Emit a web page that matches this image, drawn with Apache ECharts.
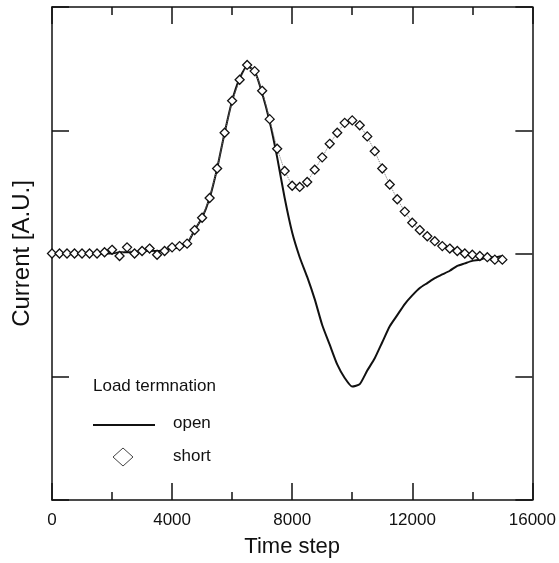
<!DOCTYPE html>
<html>
<head>
<meta charset="utf-8">
<script src="https://cdn.jsdelivr.net/npm/echarts@6/dist/echarts.min.js"></script>
<style>
    html, body { margin: 0; padding: 0; background: #fff; }
    #cn { width: 559px; height: 563px; }
</style>
</head>
<body>
<div id="cn"></div>
<script>
'use strict';

// time steps (every 250)
const timeSteps = [
    0, 250, 500, 750, 1000, 1250, 1500, 1750, 2000, 2250,
    2500, 2750, 3000, 3250, 3500, 3750, 4000, 4250, 4500, 4750,
    5000, 5250, 5500, 5750, 6000, 6250, 6500, 6750, 7000, 7250,
    7500, 7750, 8000, 8250, 8500, 8750, 9000, 9250, 9500, 9750,
    10000, 10250, 10500, 10750, 11000, 11250, 11500, 11750, 12000, 12250,
    12500, 12750, 13000, 13250, 13500, 13750, 14000, 14250, 14500, 14750,
    15000
];

// load termination: open (solid line)
const openVals = [
    0, 0, 0, 0, 0, 0, 0, 0, 0, 0.01,
    0.01, 0.01, 0.02, 0.02, 0.02, 0.03, 0.04, 0.05, 0.08, 0.19,
    0.29, 0.45, 0.69, 0.98, 1.24, 1.42, 1.52, 1.48, 1.30, 1.07,
    0.78, 0.45, 0.17, -0.03, -0.19, -0.37, -0.58, -0.74, -0.90, -1.01,
    -1.08, -1.06, -0.95, -0.85, -0.72, -0.59, -0.50, -0.41, -0.34, -0.28,
    -0.24, -0.20, -0.17, -0.14, -0.10, -0.08, -0.06, -0.05, -0.03, -0.03,
    -0.02
];

// load termination: short (diamonds)
const shortVals = [
    0, 0, 0, 0, 0, 0, 0, 0.01, 0.03, -0.02,
    0.05, 0, 0.02, 0.04, -0.01, 0.02, 0.05, 0.06, 0.08, 0.19,
    0.29, 0.45, 0.69, 0.98, 1.24, 1.41, 1.53, 1.48, 1.32, 1.09,
    0.85, 0.67, 0.55, 0.54, 0.58, 0.68, 0.78, 0.89, 0.98, 1.06,
    1.08, 1.04, 0.95, 0.83, 0.69, 0.56, 0.44, 0.34, 0.25, 0.19,
    0.14, 0.10, 0.06, 0.04, 0.02, 0.00, -0.01, -0.02, -0.03, -0.05,
    -0.05
];

const xTicks = [0, 4000, 8000, 12000, 16000];

const chart = echarts.init(document.getElementById('cn'));

const FONT = '"Liberation Sans", Arial, sans-serif';
const axLine = { show: true, onZero: false, lineStyle: { color: '#111', width: 1.5 } };
const tickStyle = { color: '#111', width: 1.5 };

const option = {
    animation: false,
    backgroundColor: '#fff',
    grid: {
        left: 52,
        right: 26,
        top: 7,
        bottom: 59
    },
    xAxis: [{
            type: 'value',
            min: 0,
            max: 16000,
            interval: 4000,
            position: 'bottom',
            axisLine: axLine,
            axisTick: { show: true, inside: true, length: 17, lineStyle: tickStyle },
            minorTick: { show: true, splitNumber: 2, length: 8, lineStyle: tickStyle },
            splitLine: { show: false },
            axisLabel: {
                color: '#111',
                fontFamily: FONT,
                fontSize: 17,
                margin: 12,
                formatter: v => xTicks.indexOf(v) >= 0 ? String(v) : ''
            },
            name: 'Time step',
            nameLocation: 'middle',
            nameGap: 36,
            nameTextStyle: { color: '#111', fontFamily: FONT, fontSize: 22 }
        },
        {
            type: 'value',
            min: 0,
            max: 16000,
            interval: 4000,
            position: 'top',
            axisLine: axLine,
            axisTick: { show: true, inside: true, length: 17, lineStyle: tickStyle },
            minorTick: { show: true, splitNumber: 2, length: 8, lineStyle: tickStyle },
            splitLine: { show: false },
            axisLabel: { show: false }
        }
    ],
    yAxis: [{
            type: 'value',
            min: -2,
            max: 2,
            interval: 1,
            position: 'left',
            axisLine: axLine,
            axisTick: { show: true, inside: true, length: 17, lineStyle: tickStyle },
            splitLine: { show: false },
            axisLabel: { show: false },
            name: 'Current [A.U.]',
            nameLocation: 'middle',
            nameGap: 18,
            nameTextStyle: { color: '#111', fontFamily: FONT, fontSize: 24 }
        },
        {
            type: 'value',
            min: -2,
            max: 2,
            interval: 1,
            position: 'right',
            axisLine: axLine,
            axisTick: { show: true, inside: true, length: 17, lineStyle: tickStyle },
            splitLine: { show: false },
            axisLabel: { show: false }
        }
    ],
    graphic: [{
            type: 'text',
            left: 93,
            top: 378,
            style: { text: 'Load termnation', fill: '#111', font: '17px ' + FONT }
        },
        {
            type: 'line',
            shape: { x1: 93, y1: 425, x2: 155, y2: 425 },
            style: { stroke: '#111', lineWidth: 2 }
        },
        {
            type: 'text',
            left: 173,
            top: 415,
            style: { text: 'open', fill: '#111', font: '17px ' + FONT }
        },
        {
            type: 'polygon',
            shape: { points: [[123, 448], [133, 457], [123, 466], [113, 457]] },
            style: { fill: '#fff', stroke: '#444', lineWidth: 1 }
        },
        {
            type: 'text',
            left: 173,
            top: 448,
            style: { text: 'short', fill: '#111', font: '17px ' + FONT }
        }
    ],
    series: [{
            name: 'open',
            type: 'line',
            smooth: 0.2,
            showSymbol: false,
            lineStyle: { color: '#111', width: 2 },
            data: timeSteps.map((t, i) => [t, openVals[i]]),
            z: 2
        },
        {
            name: 'short',
            type: 'line',
            symbol: 'diamond',
            symbolSize: [9, 9],
            showAllSymbol: true,
            lineStyle: { color: '#777', width: 1, type: 'dotted' },
            itemStyle: { color: '#fff', borderColor: '#111', borderWidth: 1.3 },
            data: timeSteps.map((t, i) => [t, shortVals[i]]),
            z: 3
        }
    ]
};

chart.setOption(option);
</script>
</body>
</html>
